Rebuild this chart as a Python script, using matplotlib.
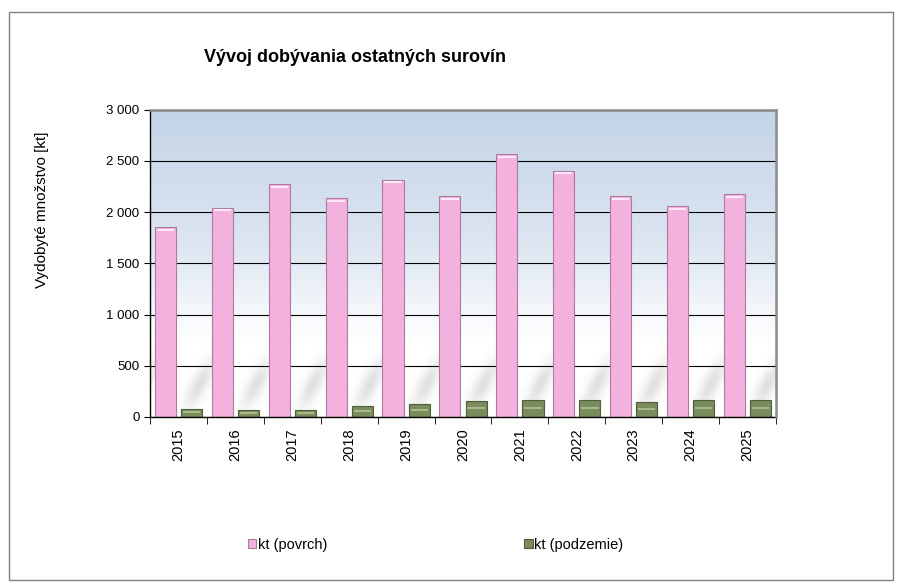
import numpy as np
import matplotlib.pyplot as plt
from matplotlib.colors import LinearSegmentedColormap
from matplotlib.patches import Rectangle
from matplotlib.ticker import FuncFormatter, MultipleLocator

# ------------------------------------------------------------
# Data
# ------------------------------------------------------------
years = ['2015', '2016', '2017', '2018', '2019', '2020',
         '2021', '2022', '2023', '2024', '2025']
povrch = [1855, 2045, 2275, 2135, 2315, 2155, 2565, 2405, 2158, 2060, 2175]
podzemie = [82, 66, 65, 104, 124, 160, 163, 166, 150, 163, 166]

title = 'Vývoj dobývania ostatných surovín'
ylabel = 'Vydobyté množstvo [kt]'
labels = ['kt (povrch)', 'kt (podzemie)']

plt.rcParams['font.family'] = ['Liberation Sans', 'DejaVu Sans']

fig = plt.figure(figsize=(9, 5.84), dpi=100)
fig.patches.append(Rectangle((0.01, 0.007), 0.982, 0.973, transform=fig.transFigure,
                             fill=False, edgecolor='#808080', linewidth=1.0))

ax = fig.add_axes([0.1667, 0.286, 0.6955, 0.526])

n = len(years)
x = np.arange(n)

# background gradient: light blue on top fading to white
bg = LinearSegmentedColormap.from_list('bg', [(0, '#ffffff'), (0.25, '#ffffff'),
                                             (0.55, '#dde6f1'), (1.0, '#c4d4e7')])
grad = np.linspace(0, 1, 256).reshape(-1, 1)
ax.imshow(grad, aspect='auto', cmap=bg, origin='lower',
          extent=[-0.5, n - 0.5, 0, 3000], zorder=0)

# soft diagonal shadow streaks in the lower part (decoration only)
gx = np.linspace(-0.5, n - 0.5, 600)
gy = np.linspace(0, 900, 200)
X, Y = np.meshgrid(gx, gy)
u = X - Y / 600 * 0.5 + 0.4
phase = np.mod(u, 1.0)
stripe = np.exp(-((phase - 0.5) / 0.16) ** 2)
env = np.exp(-((Y - 320) / 230) ** 2)
shade = np.zeros(X.shape + (4,))
shade[..., :3] = 0.45
shade[..., 3] = 0.22 * stripe * env
ax.imshow(shade, aspect='auto', origin='lower', extent=[-0.5, n - 0.5, 0, 900],
          zorder=1, interpolation='bilinear')

w = 0.37
ax.bar(x - 0.23, povrch, w, color='#f2b2dd', edgecolor='#b07aa0', linewidth=0.8,
       zorder=3, label=labels[0])
ax.bar(x + 0.23, podzemie, w, color='#7a8c5c', edgecolor='#4f5e3a', linewidth=0.8,
       zorder=3, label=labels[1])
# light highlight near bar tops
for xi, v in zip(x, povrch):
    ax.plot([xi - 0.23 - w / 2 + 0.05, xi - 0.23 + w / 2 - 0.05], [v - 25, v - 25],
            color='#fde8f6', linewidth=1.5, zorder=4)
for xi, v in zip(x, podzemie):
    ax.plot([xi + 0.23 - w / 2 + 0.05, xi + 0.23 + w / 2 - 0.05], [v * 0.55, v * 0.55],
            color='#a9b98a', linewidth=1.5, zorder=4)

ax.set_xlim(-0.5, n - 0.5)
ax.set_ylim(0, 3000)
ax.yaxis.set_major_locator(MultipleLocator(500))
ax.yaxis.set_major_formatter(FuncFormatter(lambda v, p: f'{int(v):,}'.replace(',', ' ')))
ax.grid(axis='y', color='black', linewidth=0.8)
ax.set_axisbelow(False)
for gl in ax.get_ygridlines():
    gl.set_zorder(2)

ax.set_xticks(x)
ax.set_xticklabels(years, rotation=90, fontsize=10.5)
ax.tick_params(axis='x', length=0, pad=8)
ax.set_xticks(np.arange(-0.5, n, 1), minor=True)
ax.tick_params(axis='x', which='minor', length=5, direction='out', color='black')
ax.tick_params(axis='y', labelsize=9.5, length=4, color='black')

for s in ['top', 'right']:
    ax.spines[s].set_color('#8a8a8a')
    ax.spines[s].set_linewidth(1.8)
    ax.spines[s].set_zorder(6)
for s in ['left', 'bottom']:
    ax.spines[s].set_color('black')
    ax.spines[s].set_linewidth(1.0)
    ax.spines[s].set_zorder(5)

fig.text(0.394, 0.902, title, ha='center', va='center', fontsize=13, fontweight='bold')
fig.text(0.047, 0.640, ylabel, ha='center', va='center', rotation=90, fontsize=11)

fig.legend(loc='center', bbox_to_anchor=(0.484, 0.067), ncol=2, frameon=False,
           fontsize=10.5, handlelength=0.6, handleheight=0.6, handletextpad=0.1,
           columnspacing=13.5)

fig.savefig('out.png', dpi=100)
